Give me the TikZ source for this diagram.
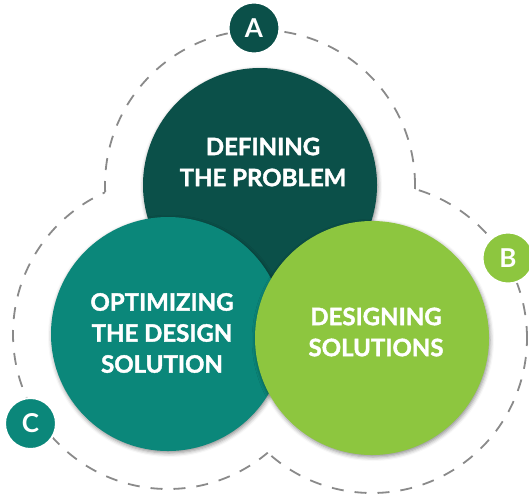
\documentclass[tikz,border=0pt]{standalone}
\usepackage{fontspec}
\setmainfont{Lato}
\newfontfamily\heavyfont{Lato}[UprightFeatures={FakeBold=1.6}, BoldFeatures={FakeBold=1.6}]
\usetikzlibrary{shadows.blur}
\definecolor{cdark}{HTML}{0B5049}
\definecolor{cteal}{HTML}{0B877A}
\definecolor{cgreen}{HTML}{8DC63F}
\definecolor{cdash}{HTML}{8A8A8A}
\tikzset{
  bigcirc/.style={circle, inner sep=0pt, minimum size=234pt,
    blur shadow={shadow xshift=1pt, shadow yshift=-2pt, shadow blur radius=4pt, shadow opacity=45}},
  bigtext/.style={text=white, align=center, font=\heavyfont\bfseries\fontsize{24}{31}\selectfont, inner sep=0pt},
  lettercirc/.style={circle, inner sep=0pt, minimum size=51pt, text=white,
    font=\bfseries\fontsize{26}{26}\selectfont, draw=white, line width=2pt},
  dashline/.style={draw=cdash, line width=1.8pt, dash pattern=on 12pt off 11pt},
}
\begin{document}
\begin{tikzpicture}[x=1pt, y=-1pt]
\useasboundingbox (0,0) rectangle (529,496);
\coordinate (T) at (260,185);
\coordinate (L) at (168,334);
\coordinate (R) at (372,338);
% dashed outer outline (union of three offset circles)
\begin{scope}[even odd rule]
  \clip (-20,-20) rectangle (560,520) (L) circle[radius=155pt];
  \begin{scope}[even odd rule]
    \clip (-20,-20) rectangle (560,520) (R) circle[radius=155pt];
    \draw[dashline] (T) circle[radius=155pt];
  \end{scope}
\end{scope}
\begin{scope}[even odd rule]
  \clip (-20,-20) rectangle (560,520) (T) circle[radius=155pt];
  \begin{scope}[even odd rule]
    \clip (-20,-20) rectangle (560,520) (R) circle[radius=155pt];
    \draw[dashline] (L) circle[radius=155pt];
  \end{scope}
\end{scope}
\begin{scope}[even odd rule]
  \clip (-20,-20) rectangle (560,520) (T) circle[radius=155pt];
  \begin{scope}[even odd rule]
    \clip (-20,-20) rectangle (560,520) (L) circle[radius=155pt];
    \draw[dashline] (R) circle[radius=155pt];
  \end{scope}
\end{scope}
% main circles
\node[bigcirc, fill=cdark] (def) at (T) {};
\node[bigcirc, fill=cteal] (opt) at (L) {};
\node[bigcirc, fill=cgreen] (des) at (R) {};
\node[bigtext] (deft) at (263,162) {DEFINING\\THE PROBLEM};
\node[bigtext] (optt) at (162,333) {OPTIMIZING\\THE DESIGN\\SOLUTION};
\node[bigtext] (dest) at (376,332) {DESIGNING\\SOLUTIONS};
% letter badges
\node[lettercirc, fill=cdark] (A) at (254,28) {A};
\node[lettercirc, fill=cgreen] (B) at (508,258) {B};
\node[lettercirc, fill=cteal] (C) at (30.5,423.5) {C};
\end{tikzpicture}
\end{document}
